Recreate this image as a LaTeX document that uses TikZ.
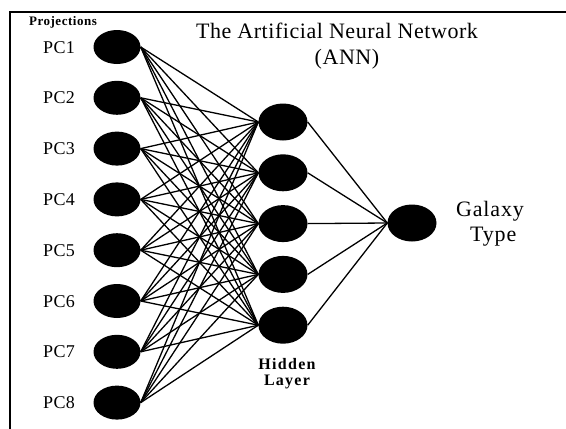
\documentclass[tikz,border=0pt]{standalone}
\usepackage{fontspec}
\setmainfont{Liberation Serif}
\newfontfamily\annfont{Liberation Serif}
\usetikzlibrary{shapes.geometric}

\tikzset{
  neuron/.style={ellipse,fill=black,inner sep=0pt,minimum width=47pt,minimum height=34pt},
  hidden/.style={neuron,minimum width=49pt,minimum height=37pt},
  synapse/.style={line width=1.3pt},
  pclabel/.style={anchor=base west,inner sep=0pt,font=\annfont\addfontfeature{LetterSpace=2}\fontsize{18}{20}\selectfont},
  bigtext/.style={inner sep=0pt,font=\annfont\addfontfeature{LetterSpace=2.5}\fontsize{22}{24}\selectfont}
}

\begin{document}
\begin{tikzpicture}[x=1pt,y=-1pt]
%\draw[help lines] (0,0)grid[step=50](566,429);
\useasboundingbox (0,0) rectangle (566,429);
\draw[line width=1.4pt] (10,429) -- (10,12) -- (566,12);
\foreach \i in {1,...,8}{
  \node[neuron] (pc\i) at (117,{47+50.8*(\i-1)}) {};
  \node[pclabel] (lbl\i) at (43,{53+50.8*(\i-1)}) {PC\i};
}
\foreach \j in {1,...,5}
  \node[hidden] (h\j) at (283,{122+50.8*(\j-1)}) {};
\node[hidden] (out) at (412,223) {};
\foreach \i in {1,...,8}
  \foreach \j in {1,...,5}
    \draw[synapse] (pc\i.east) -- (h\j.west);
\foreach \j in {1,...,5}
  \draw[synapse] (h\j.east) -- (out.west);
\node[anchor=base,inner sep=0pt,font=\annfont\addfontfeature{LetterSpace=4}\bfseries\fontsize{13}{14}\selectfont] (proj) at (63,25) {Projections};
\node[bigtext,anchor=base] (title) at (337,38) {The Artificial Neural Network};
\node[bigtext,anchor=base] (ann) at (347,64) {(ANN)};
\node[bigtext,align=center,font=\annfont\addfontfeature{LetterSpace=4}\fontsize{22}{25}\selectfont] (galaxy) at (490,224) {Galaxy\\\ Type};
\node[align=center,inner sep=0pt,font=\annfont\addfontfeature{LetterSpace=8}\bfseries\fontsize{16}{16}\selectfont] (hid) at (287,374) {Hidden\\Layer};
\end{tikzpicture}
\end{document}
